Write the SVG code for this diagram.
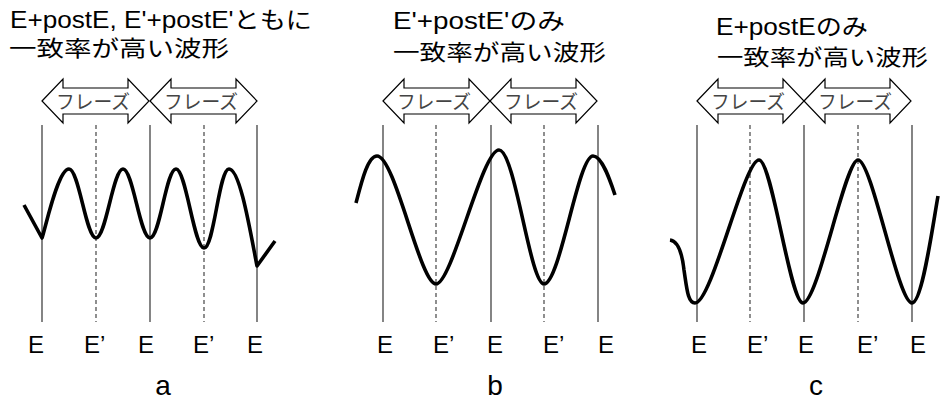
<svg xmlns="http://www.w3.org/2000/svg" xmlns:xlink="http://www.w3.org/1999/xlink" width="946" height="401" viewBox="0 0 946 401">
  <style>
    .title { font-family: "Liberation Sans", "Noto Sans CJK JP", sans-serif; font-size: 23px; fill: #000; }
    .title2 { font-family: "Noto Sans CJK JP", "Liberation Sans", sans-serif; font-size: 22px; fill: #000; }
    .phrase { font-family: "Noto Sans CJK JP", sans-serif; font-size: 19px; fill: #444; }
    .lbl { font-family: "Liberation Sans", Arial, sans-serif; font-size: 24px; fill: #000; }
    .cap { font-family: "Liberation Sans", Arial, sans-serif; font-size: 28px; fill: #000; text-anchor: middle; }
    .arrow { fill: #fff; stroke: #000; stroke-width: 1.2; stroke-linejoin: miter; }
    .solid { stroke: #333; stroke-width: 1.2; fill: none; }
    .dash { stroke: #333; stroke-width: 1.1; stroke-dasharray: 4 3; fill: none; }
    .wave { stroke: #000; stroke-width: 3.6; fill: none; stroke-linejoin: round; stroke-linecap: butt; }
  </style>
  <defs>
    <path id="dblarrow" d="M0,0 L21,-22 L21,-13 L86,-13 L86,-22 L107,0 L86,22 L86,13 L21,13 L21,22 Z"/>
  </defs>
  <rect width="946" height="401" fill="#fff"/>

  <!-- Panel a -->
  <g id="panel-a">
    <g id="a-title">
      <text class="title" x="10" y="28" textLength="302" lengthAdjust="spacingAndGlyphs">E+postE, E'+postE'ともに</text>
      <text class="title2" x="9" y="56" textLength="220" lengthAdjust="spacingAndGlyphs">一致率が高い波形</text>
    </g>
    <g id="a-phrases">
      <use xlink:href="#dblarrow" class="arrow" transform="translate(42,101)"/>
      <use xlink:href="#dblarrow" class="arrow" transform="translate(150,101)"/>
      <text class="phrase" x="56" y="109" textLength="74" lengthAdjust="spacingAndGlyphs">フレーズ</text>
      <text class="phrase" x="164" y="109" textLength="74" lengthAdjust="spacingAndGlyphs">フレーズ</text>
    </g>
    <g id="a-markers">
      <line class="solid" x1="42" y1="125" x2="42" y2="322"/>
      <line class="dash" x1="96" y1="125" x2="96" y2="322"/>
      <line class="solid" x1="150" y1="125" x2="150" y2="322"/>
      <line class="dash" x1="204" y1="125" x2="204" y2="322"/>
      <line class="solid" x1="257" y1="125" x2="257" y2="322"/>
    </g>
    <path id="a-wave" class="wave" d="M24,205 L42,238 C46,226 58,169 69,169 C79,169 86,238 96,238 C106,238 113,169 123,169 C133,169 140,238 150,238 C160,238 166,169 176,169 C186,169 194,248 204,248 C214,248 219,169 229,169 C240,169 250,230 257,266 L275,241"/>
    <g id="a-labels">
      <text class="lbl" x="28" y="353">E</text>
      <text class="lbl" x="84" y="353">E’</text>
      <text class="lbl" x="138" y="353">E</text>
      <text class="lbl" x="193" y="353">E’</text>
      <text class="lbl" x="247" y="353">E</text>
      <text class="cap" x="163" y="395">a</text>
    </g>
  </g>

  <!-- Panel b -->
  <g id="panel-b">
    <g id="b-title">
      <text class="title" x="393" y="29" textLength="172" lengthAdjust="spacingAndGlyphs">E'+postE'のみ</text>
      <text class="title2" x="393" y="60" textLength="213" lengthAdjust="spacingAndGlyphs">一致率が高い波形</text>
    </g>
    <g id="b-phrases">
      <use xlink:href="#dblarrow" class="arrow" transform="translate(383,101)"/>
      <use xlink:href="#dblarrow" class="arrow" transform="translate(490,101)"/>
      <text class="phrase" x="397" y="109" textLength="74" lengthAdjust="spacingAndGlyphs">フレーズ</text>
      <text class="phrase" x="504" y="109" textLength="74" lengthAdjust="spacingAndGlyphs">フレーズ</text>
    </g>
    <g id="b-markers">
      <line class="solid" x1="383" y1="125" x2="383" y2="322"/>
      <line class="dash" x1="436" y1="125" x2="436" y2="322"/>
      <line class="solid" x1="491" y1="125" x2="491" y2="322"/>
      <line class="dash" x1="544" y1="125" x2="544" y2="322"/>
      <line class="solid" x1="598" y1="125" x2="598" y2="322"/>
    </g>
    <path id="b-wave" class="wave" d="M356,203 C362,180 368,156 377,156 C395,156 420,284 436,284 C452,284 482,150 499,150 C515,150 530,284 544,284 C560,284 578,156 593,156 C602,156 610,180 615,195"/>
    <g id="b-labels">
      <text class="lbl" x="377" y="353">E</text>
      <text class="lbl" x="433" y="353">E’</text>
      <text class="lbl" x="487" y="353">E</text>
      <text class="lbl" x="543" y="353">E’</text>
      <text class="lbl" x="598" y="353">E</text>
      <text class="cap" x="495" y="395">b</text>
    </g>
  </g>

  <!-- Panel c -->
  <g id="panel-c">
    <g id="c-title">
      <text class="title" x="716" y="35" textLength="152" lengthAdjust="spacingAndGlyphs">E+postEのみ</text>
      <text class="title2" x="717" y="65" textLength="211" lengthAdjust="spacingAndGlyphs">一致率が高い波形</text>
    </g>
    <g id="c-phrases">
      <use xlink:href="#dblarrow" class="arrow" transform="translate(697,101)"/>
      <use xlink:href="#dblarrow" class="arrow" transform="translate(804,101)"/>
      <text class="phrase" x="711" y="109" textLength="74" lengthAdjust="spacingAndGlyphs">フレーズ</text>
      <text class="phrase" x="818" y="109" textLength="74" lengthAdjust="spacingAndGlyphs">フレーズ</text>
    </g>
    <g id="c-markers">
      <line class="solid" x1="697" y1="125" x2="697" y2="322"/>
      <line class="dash" x1="750" y1="125" x2="750" y2="322"/>
      <line class="solid" x1="804" y1="125" x2="804" y2="322"/>
      <line class="dash" x1="858" y1="125" x2="858" y2="322"/>
      <line class="solid" x1="912" y1="125" x2="912" y2="322"/>
    </g>
    <path id="c-wave" class="wave" d="M670,240 C678,241 682,252 684,270 C687,290 688,303 695,303 C712,303 744,160 759,160 C772,160 790,303 803,303 C818,303 845,160 858,160 C872,160 898,303 912,303 C922,303 932,230 938,196"/>
    <g id="c-labels">
      <text class="lbl" x="691" y="353">E</text>
      <text class="lbl" x="747" y="353">E’</text>
      <text class="lbl" x="798" y="353">E</text>
      <text class="lbl" x="857" y="353">E’</text>
      <text class="lbl" x="910" y="353">E</text>
      <text class="cap" x="816" y="395">c</text>
    </g>
  </g>
</svg>
